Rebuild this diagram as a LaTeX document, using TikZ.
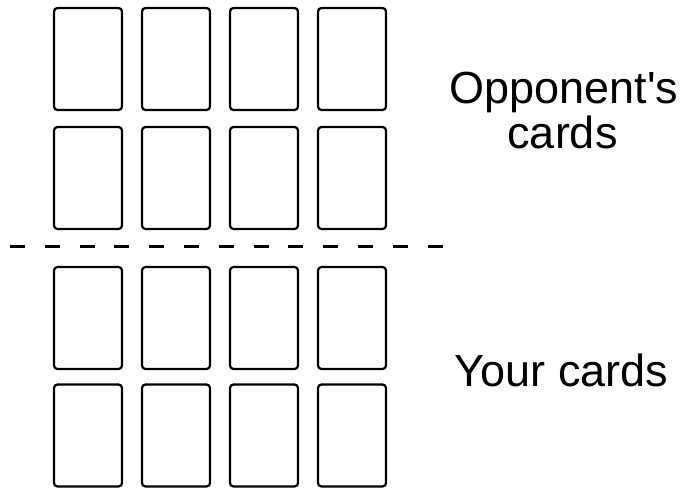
\documentclass[tikz,border=0pt]{standalone}
\usepackage{fontspec}
\setmainfont{Liberation Sans}
\usepackage{tikz}
\usetikzlibrary{positioning}

\begin{document}
\begin{tikzpicture}[x=1pt, y=1pt,
    card/.style={draw, line width=2.2pt, rounded corners=3.5pt, minimum width=68pt, minimum height=102pt, inner sep=0pt},
    caption/.style={anchor=base, font=\fontsize{45}{54}\selectfont},
    divider/.style={line width=3pt, dash pattern=on 15pt off 19.8pt}]
    \useasboundingbox (0,0) rectangle (682,488);

    % Opponent's cards (top two rows)
    \node[card] (o11) at (88,429) {};
    \node[card] (o12) at (176,429) {};
    \node[card] (o13) at (264,429) {};
    \node[card] (o14) at (352,429) {};
    \node[card] (o21) at (88,310) {};
    \node[card] (o22) at (176,310) {};
    \node[card] (o23) at (264,310) {};
    \node[card] (o24) at (352,310) {};

    % Your cards (bottom two rows)
    \node[card] (y11) at (88,170) {};
    \node[card] (y12) at (176,170) {};
    \node[card] (y13) at (264,170) {};
    \node[card] (y14) at (352,170) {};
    \node[card] (y21) at (88,52.5) {};
    \node[card] (y22) at (176,52.5) {};
    \node[card] (y23) at (264,52.5) {};
    \node[card] (y24) at (352,52.5) {};

    % Dividing line
    \coordinate (divl) at (10,241.5);
    \coordinate (divr) at (443,241.5);
    \draw[divider] (divl) -- (divr);

    % Labels
    \node[caption] (opp) at (564,384) {Opponent\textquotesingle s};
    \node[caption] (oppcards) at (562.5,339) {cards};
    \node[caption] (your) at (561.5,102) {Your cards};

\end{tikzpicture}
\end{document}
